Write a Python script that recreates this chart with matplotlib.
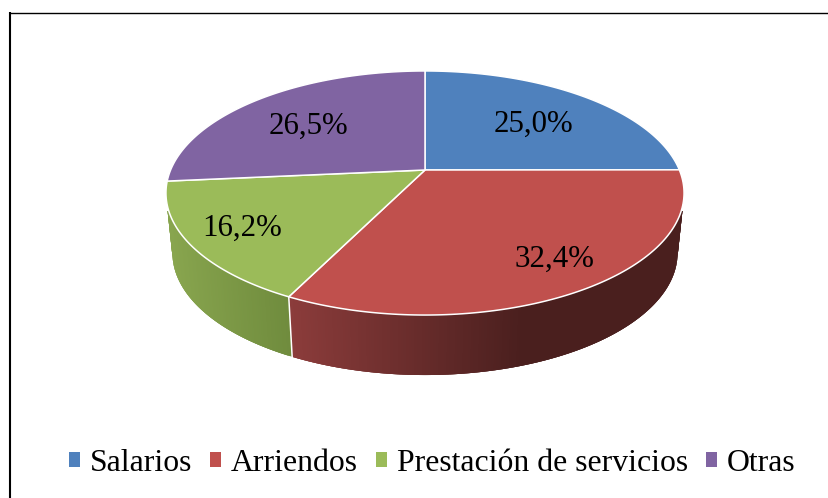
import numpy as np
import matplotlib
matplotlib.use('Agg')
import matplotlib.pyplot as plt
from matplotlib.patches import Patch, Rectangle
from matplotlib.colors import to_rgb

# Data
categories = ['Salarios', 'Arriendos', 'Prestación de servicios', 'Otras']
values = [25.0, 32.4, 16.2, 26.5]
colors = ['#4f81bd', '#c0504d', '#9bbb59', '#8064a2']
label_pos = [(533.5, 124), (554, 259), (242, 228), (308, 126)]

# wall shading, (x from, x to, left colour, right colour)
walls = {1: (290, 525, '#8c3c3b', '#4a1f1e'), 2: (170, 292, '#88a54e', '#6f8b3d')}

plt.rcParams['font.family'] = ['Liberation Serif', 'DejaVu Serif']

fig = plt.figure(figsize=(8.29, 4.98), dpi=100)
ax = fig.add_axes([0, 0, 1, 1])
ax.set_xlim(0, 829)
ax.set_ylim(498, 0)
ax.axis('off')

# chart frame, only top and left are visible in the picture
ax.plot([10, 10], [12, 498], color='black', lw=1.5, solid_capstyle='butt')
ax.plot([9, 829], [12.5, 12.5], color='black', lw=1.0, solid_capstyle='butt')


# perspective projection of the pie disc, t is clockwise from 12 o'clock
def top_rim(t):
    t = np.radians(t)
    w = 1 + 0.1885 * np.cos(t)
    return 425 + 254.4 * np.sin(t) / w, 170 - 117.7 * np.cos(t) / w


def bottom_rim(t):
    x, y = top_rim(t)
    return 425 + (x - 425) * 0.975, y + 60


shares = np.array(values) / sum(values) * 360
edges = np.concatenate([[0], np.cumsum(shares)])

# the walls only start a bit under the widest point of the disc
wall_clip = Rectangle((0, 211), 829, 287, transform=ax.transData)

# side walls, overlapping strips so the gradient has no seams
for i, (x0, x1, c0, c1) in walls.items():
    ts = np.arange(edges[i], edges[i + 1], 0.5)
    for a in ts:
        seg = np.linspace(a, min(a + 1.5, edges[i + 1]), 5)
        xt, yt = top_rim(seg)
        xb, yb = bottom_rim(seg)
        f = np.clip((xt[0] - x0) / (x1 - x0), 0, 1)
        col = (1 - f) * np.array(to_rgb(c0)) + f * np.array(to_rgb(c1))
        poly = ax.fill(np.r_[xt, xb[::-1]], np.r_[yt, yb[::-1]], color=col, lw=0, zorder=2)[0]
        poly.set_clip_path(wall_clip)

# white line between the walls
t = edges[2]
ax.plot([top_rim(t)[0], bottom_rim(t)[0]], [top_rim(t)[1], bottom_rim(t)[1]],
        color='white', lw=1.1, zorder=3)

# top face
for i in range(4):
    ts = np.linspace(edges[i], edges[i + 1], 120)
    xs, ys = top_rim(ts)
    ax.fill(np.r_[425, xs], np.r_[170, ys], facecolor=colors[i], edgecolor='white',
            lw=1.1, joinstyle='round', zorder=4)

# data labels
for val, (x, y) in zip(values, label_pos):
    ax.text(x, y, f'{val:.1f}%'.replace('.', ','), fontsize=22.2, color='black',
            ha='center', va='center', zorder=5)

handles = [Patch(facecolor=c, edgecolor='none') for c in colors]
ax.legend(handles, categories, loc='center', bbox_to_anchor=(432 / 829, 1 - 463.5 / 498),
          ncol=4, frameon=False, fontsize=22.9, handlelength=0.35, handleheight=0.35,
          handletextpad=0.3, columnspacing=0.57, borderpad=0, borderaxespad=0)

plt.savefig('out.png', dpi=100)
